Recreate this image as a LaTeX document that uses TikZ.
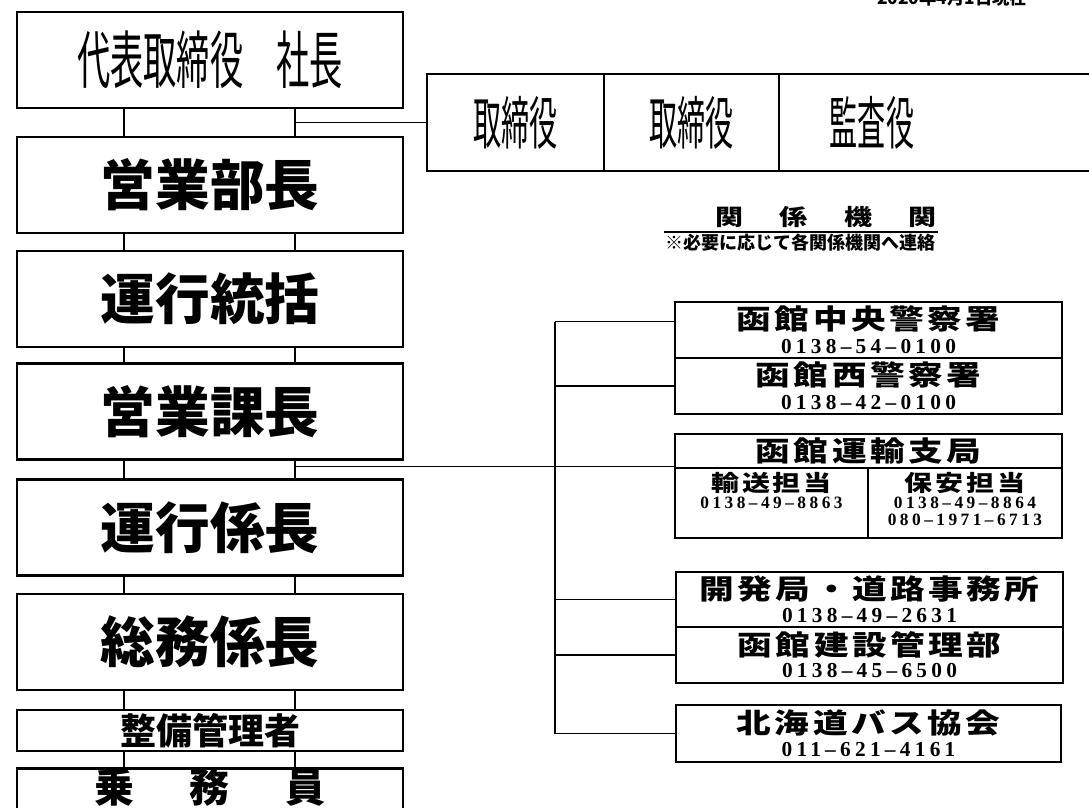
\documentclass[tikz,border=0pt]{standalone}
\usepackage{fontspec}
\newfontfamily\jp{Noto Sans CJK JP}
\newfontfamily\jpls[LetterSpace=10]{Noto Sans CJK JP}
\newfontfamily\numf[LetterSpace=20]{Liberation Serif}
\newcommand\fs[1]{\fontsize{#1}{#1}\selectfont}
\newcommand\cond[3][0.53]{\scalebox{#1}[1]{\jp\mdseries\fs{#2}#3}}
\newcommand\squash[1]{\scalebox{1}[0.8]{#1}}
\begin{document}
\begin{tikzpicture}[x=0.75pt,y=-0.75pt,
  lbox/.style={draw,line width=2pt,inner sep=0pt,minimum width=289.5pt,minimum height=72pt,font=\jp\bfseries\fs{41}},
  rbox/.style={draw,line width=2pt,inner sep=0pt},
  conn/.style={line width=1.2pt},
  title/.style={font=\jpls\bfseries\fs{26},inner sep=0pt},
  stitle/.style={font=\jpls\bfseries\fs{21},inner sep=0pt},
  tel/.style={font=\numf\bfseries\fs{16},inner sep=0pt},
  stel/.style={font=\numf\bfseries\fs{13},inner sep=0pt}]
\useasboundingbox (0,0) rectangle (1089,807);
% date
\node[font=\jp\bfseries\fs{13},anchor=base,inner sep=0pt] (date) at (952,4) {2020年4月1日現在};
% left column
\node[lbox] (b1) at (210,60) {\cond{47}{代表取締役　社長}};
\node[lbox] (b2) at (210,185) {営業部長};
\node[lbox] (b3) at (210,299) {運行統括};
\node[lbox] (b4) at (210,411.5) {営業課長};
\node[lbox] (b5) at (210,527.5) {運行係長};
\node[lbox] (b6) at (210,642) {総務係長};
\node[lbox,minimum height=30.75pt,font=\jp\bfseries\fs{27}] (b7) at (210,730.5) {整備管理者};
\node[lbox,minimum height=64.5pt,anchor=north] (b8) at (210,767) {};
\node[font=\jp\bfseries\fs{30},inner sep=0pt] (t8) at (210,787) {乗\hspace{1.4em}務\hspace{1.4em}員};
\coordinate (cl) at (124,0);
\coordinate (cr) at (295,0);
\foreach \a/\b in {b1/b2,b2/b3,b3/b4,b4/b5,b5/b6,b6/b7,b7/b8}{
  \draw[conn] (\a.south -| cl) -- (\b.north -| cl);
  \draw[conn] (\a.south -| cr) -- (\b.north -| cr);
}
% board
\node[rbox,minimum width=132.75pt,minimum height=72.75pt] (d1) at (515.5,122.5) {\cond[0.49]{43}{取締役}};
\node[rbox,minimum width=131.25pt,minimum height=72.75pt] (d2) at (691.5,122.5) {\cond[0.49]{43}{取締役}};
\node[rbox,minimum width=248.25pt,minimum height=72.75pt] (d3) at (944.5,122.5) {};
\node[inner sep=0pt] (t3) at (872,122.5) {\cond[0.49]{43}{監査役}};
\draw[conn] (cr |- d1.west) -- (d1.west);
% header
\node[font=\jp\bfseries\fs{21},inner sep=0pt] (hd) at (826,217) {\squash{関\hspace{1.3em}係\hspace{1.3em}機\hspace{1.3em}関}};
\coordinate (u1) at (664,232);
\coordinate (u2) at (938,232);
\draw[line width=1.5pt] (u1) -- (u2);
\node[font=\jp\bfseries\fs{13.5},inner sep=0pt] (note) at (800,243) {※必要に応じて各関係機関へ連絡};
% police
\node[rbox,minimum width=290.25pt,minimum height=42pt] (a1) at (868.5,330) {};
\node[title] (ta1) at (868.5,319) {\squash{函館中央警察署}};
\node[tel] (na1) at (868.5,347) {0138–54–0100};
\node[rbox,minimum width=290.25pt,minimum height=42pt] (a2) at (868.5,386) {};
\node[title] (ta2) at (868.5,375) {\squash{函館西警察署}};
\node[tel] (na2) at (868.5,403) {0138–42–0100};
% transport
\node[rbox,minimum width=290.25pt,minimum height=25.5pt] (bh) at (868.5,451) {};
\node[title] (tbh) at (868.5,451) {\squash{函館運輸支局}};
\node[rbox,minimum width=144.75pt,minimum height=52.5pt] (bl) at (771.5,503) {};
\node[rbox,minimum width=145.5pt,minimum height=52.5pt] (br) at (965,503) {};
\node[stitle] (tbl) at (771.5,483) {\squash{輸送担当}};
\node[stel] (nbl) at (771.5,503) {0138–49–8863};
\node[stitle] (tbr) at (965,483) {\squash{保安担当}};
\node[stel] (nbr1) at (965,503) {0138–49–8864};
\node[stel] (nbr2) at (965,520) {080–1971–6713};
% road
\node[rbox,minimum width=290.25pt,minimum height=41.25pt] (c1) at (869.5,599.5) {};
\node[title] (tc1) at (869.5,589) {\squash{開発局・道路事務所}};
\node[tel] (nc1) at (869.5,616) {0138–49–2631};
\node[rbox,minimum width=290.25pt,minimum height=42pt] (c2) at (869.5,655) {};
\node[title] (tc2) at (869.5,645) {\squash{函館建設管理部}};
\node[tel] (nc2) at (869.5,671) {0138–45–6500};
% bus association
\node[rbox,minimum width=288.75pt,minimum height=42.75pt] (e1) at (868.5,733.5) {};
\node[title] (te1) at (868.5,723) {\squash{北海道バス協会}};
\node[tel] (ne1) at (868.5,750) {011–621–4161};
% bus connectors
\coordinate (bus) at (555,0);
\draw[conn] (bus |- a1.north) ++(0,21) coordinate (top) ;
\draw[conn] (bus |- top) -- (bus |- e1);
\draw[conn] (bus |- top) -- (a1.west |- top);
\draw[conn] (bus |- a2) -- (a2.west);
\draw[conn] (cr |- bl.north) -- (bl.north west);
\draw[conn] (bus |- c1) -- (c1.west);
\draw[conn] (bus |- c2) -- (c2.west);
\draw[conn] (bus |- e1) -- (e1.west);
\end{tikzpicture}
\end{document}
